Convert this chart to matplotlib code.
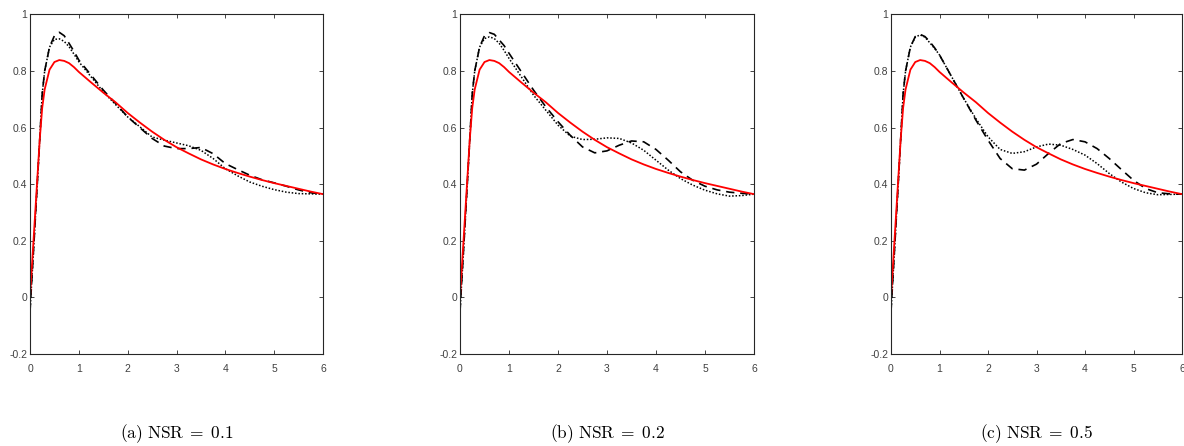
import matplotlib
matplotlib.use("Agg")
import matplotlib.pyplot as plt

plt.rcParams["mathtext.fontset"] = "cm"

# --- data ---
t = [0, 0.1, 0.2, 0.25, 0.3, 0.4, 0.5, 0.6, 0.7, 0.8, 0.9, 1.0, 1.25, 1.5, 1.75,
     2.0, 2.25, 2.5, 2.75, 3.0, 3.25, 3.5, 3.75, 4.0, 4.25, 4.5, 4.75, 5.0, 5.25,
     5.5, 5.75, 6.0]

# red reference curve (same in every panel)
exact = [0.0, 0.28, 0.56, 0.67, 0.735, 0.805, 0.832, 0.839, 0.836, 0.828, 0.814,
         0.797, 0.76, 0.724, 0.69, 0.652, 0.618, 0.586, 0.557, 0.531, 0.509, 0.488,
         0.47, 0.454, 0.44, 0.427, 0.415, 0.404, 0.394, 0.384, 0.374, 0.365]

dashed_a = [-0.05, 0.25, 0.56, 0.72, 0.80, 0.885, 0.925, 0.937, 0.925, 0.898, 0.87,
            0.839, 0.786, 0.733, 0.686, 0.638, 0.60, 0.562, 0.535, 0.526, 0.526,
            0.53, 0.508, 0.473, 0.452, 0.432, 0.416, 0.405, 0.393, 0.38, 0.37, 0.365]
dotted_a = [-0.05, 0.25, 0.56, 0.72, 0.80, 0.885, 0.912, 0.914, 0.905, 0.886, 0.86,
            0.833, 0.78, 0.727, 0.682, 0.638, 0.603, 0.567, 0.556, 0.546, 0.536,
            0.52, 0.491, 0.455, 0.43, 0.408, 0.393, 0.381, 0.372, 0.367, 0.366, 0.365]

dashed_b = [-0.05, 0.25, 0.56, 0.72, 0.80, 0.885, 0.925, 0.936, 0.93, 0.91, 0.89,
            0.863, 0.798, 0.733, 0.674, 0.621, 0.573, 0.532, 0.511, 0.518, 0.538,
            0.553, 0.55, 0.523, 0.485, 0.444, 0.414, 0.393, 0.38, 0.372, 0.368, 0.365]
dotted_b = [-0.05, 0.25, 0.56, 0.72, 0.80, 0.885, 0.915, 0.921, 0.915, 0.898, 0.873,
            0.845, 0.78, 0.715, 0.662, 0.609, 0.57, 0.558, 0.559, 0.564, 0.562,
            0.546, 0.52, 0.485, 0.45, 0.42, 0.397, 0.379, 0.366, 0.358, 0.36, 0.365]

dashed_c = [-0.05, 0.25, 0.56, 0.72, 0.80, 0.885, 0.922, 0.93, 0.922, 0.904, 0.882,
            0.857, 0.78, 0.703, 0.627, 0.556, 0.491, 0.455, 0.45, 0.471, 0.509,
            0.544, 0.558, 0.55, 0.526, 0.491, 0.452, 0.414, 0.385, 0.37, 0.366, 0.365]
dotted_c = [-0.05, 0.25, 0.56, 0.72, 0.80, 0.885, 0.92, 0.928, 0.92, 0.90, 0.88,
            0.857, 0.78, 0.703, 0.632, 0.568, 0.523, 0.509, 0.515, 0.532, 0.542,
            0.538, 0.523, 0.503, 0.473, 0.438, 0.408, 0.385, 0.37, 0.363, 0.364, 0.365]

captions = [r"$\mathrm{(a)\ NSR}\;=\;0.1$", r"$\mathrm{(b)\ NSR}\;=\;0.2$",
            r"$\mathrm{(c)\ NSR}\;=\;0.5$"]
dashed = [dashed_a, dashed_b, dashed_c]
dotted = [dotted_a, dotted_b, dotted_c]

xticks = [0, 1, 2, 3, 4, 5, 6]
yticks = [-0.2, 0, 0.2, 0.4, 0.6, 0.8, 1]
yticklabels = ["-0.2", "0", "0.2", "0.4", "0.6", "0.8", "1"]

# --- figure ---
fig = plt.figure(figsize=(11.84, 4.46), dpi=100)
lefts = [30 / 1184, 460 / 1184, 891 / 1184]
widths = [293 / 1184, 294 / 1184, 291 / 1184]
axcol = "#262626"

for i in range(3):
    ax = fig.add_axes([lefts[i], 1 - 354 / 446, widths[i], (354 - 14.5) / 446])
    ax.plot(t, dotted[i], color="black", ls=(0, (1, 1.2)), lw=1.1)
    ax.plot(t, dashed[i], color="black", ls=(0, (5, 3.5)), lw=1.2)
    ax.plot(t, exact, color="red", lw=1.3)
    ax.set_xlim(0, 6)
    ax.set_ylim(-0.2, 1)
    ax.set_xticks(xticks)
    ax.set_yticks(yticks)
    ax.set_yticklabels(yticklabels)
    ax.tick_params(direction="in", top=True, right=True, length=3, width=0.6,
                   labelsize=7.5, colors=axcol, pad=2)
    ax.tick_params(axis="x", pad=7)
    for lab in ax.get_xticklabels() + ax.get_yticklabels():
        lab.set_family(["Liberation Sans Narrow", "Liberation Sans", "DejaVu Sans"])
        lab.set_color("#404040")
    for s in ax.spines.values():
        s.set_color(axcol)
        s.set_linewidth(0.8)
    fig.text(lefts[i] + widths[i] / 2, 0.027, captions[i], ha="center", va="center",
             fontsize=12.5)

fig.savefig("out.png", dpi=100)
